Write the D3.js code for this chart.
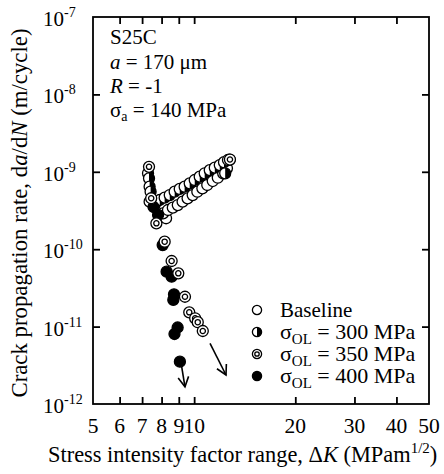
<!DOCTYPE html>
<html><head><meta charset="utf-8">
<script src="https://cdn.jsdelivr.net/npm/d3@7"></script>
<style>
html,body{margin:0;padding:0;background:#fff;}
svg{display:block;font-family:"Liberation Serif","Times New Roman",Times,serif;}
</style></head><body>
<svg id="chart" width="444" height="474" font-family="Liberation Serif, Times New Roman, Times, serif"></svg>
<script>
// Crack growth rate vs stress intensity factor range, S25C, after single overloads

// Baseline (no overload)
const baselineDK   = [8.25, 8.08, 8.36, 8.64, 8.94, 9.24, 9.56, 9.90, 10.22, 10.58, 10.94, 11.36, 11.76, 12.20, 12.52, 12.75];
const baselineRate = [2.51e-10, 2.91e-10, 3.21e-10, 3.44e-10, 3.72e-10, 4.11e-10, 4.54e-10, 5.01e-10, 5.53e-10, 6.12e-10, 6.75e-10, 7.60e-10, 8.39e-10, 9.57e-10, 1.11e-9, 1.44e-9];

// Overload 300 MPa
const ol300DK   = [7.29, 7.34, 7.37, 7.42, 7.37, 7.63, 7.90, 8.17, 8.46, 8.75, 9.06, 9.37, 9.70, 10.04, 10.39, 10.75, 11.13, 11.52, 11.92, 12.27, 12.37, 12.61];
const ol300Rate = [9.57e-10, 8.24e-10, 6.42e-10, 5.53e-10, 4.11e-10, 3.72e-10, 4.32e-10, 4.63e-10, 5.01e-10, 5.53e-10, 6.00e-10, 6.42e-10, 7.10e-10, 7.83e-10, 8.65e-10, 9.57e-10, 1.05e-9, 1.13e-9, 1.22e-9, 1.33e-9, 9.57e-10, 1.42e-9];

// Overload 350 MPa
const ol350DK   = [7.34, 7.45, 7.72, 8.17, 8.57, 8.97, 9.39, 9.67, 10.07, 10.25, 10.61, 12.78];
const ol350Rate = [1.16e-9, 4.55e-10, 2.16e-10, 1.25e-10, 7.04e-11, 4.88e-11, 2.43e-11, 1.53e-11, 1.28e-11, 1.14e-11, 8.77e-12, 1.44e-9];

// Overload 400 MPa
const ol400DK   = [7.57, 7.81, 8.06, 8.28, 8.57, 8.71, 8.67, 8.93, 8.74, 9.07];
const ol400Rate = [3.51e-10, 2.77e-10, 1.13e-10, 5.12e-11, 4.41e-11, 2.61e-11, 2.21e-11, 9.73e-12, 8.02e-12, 3.52e-12];

// Arrows marking crack arrest: [dK start, rate start, dK end, rate end]
const arrestArrows = [
  [9.18, 3.03e-12, 9.39, 1.67e-12],
  [11.15, 6.08e-12, 12.44, 2.37e-12]
];

const xTickValues  = [5, 6, 7, 8, 9, 10, 20, 30, 40, 50];
const xTickLabels  = ["5", "6", "7", "8", "9", "10", "20", "30", "40", "50"];
const yTickValues  = [1e-7, 1e-8, 1e-9, 1e-10, 1e-11, 1e-12];
const yTickExps    = ["-7", "-8", "-9", "-10", "-11", "-12"];
const overloadStress = [300, 350, 400];

const svg = d3.select("#chart");
const plotL = 93, plotR = 429, plotT = 17, plotB = 404;

const x = d3.scaleLog().domain([5, 50]).range([plotL, plotR]);
const y = d3.scaleLog().domain([1e-12, 1e-7]).range([plotB, plotT]);

const FS = 21, SUB = 14;
const MR = 5.5;

// inward ticks on all four sides
const innerX = xTickValues.slice(1, -1);
const innerY = yTickValues.slice(1, -1);
const tickLen = 7;

function styleAxis(g) {
  g.select(".domain").remove();
  g.selectAll(".tick line").attr("stroke", "#000").attr("stroke-width", 1.8);
  g.selectAll(".tick text").remove();
}
svg.append("g").attr("transform", `translate(0,${plotB})`)
  .call(d3.axisBottom(x).tickValues(innerX).tickSize(-tickLen)).call(styleAxis);
svg.append("g").attr("transform", `translate(0,${plotT})`)
  .call(d3.axisTop(x).tickValues(innerX).tickSize(-tickLen)).call(styleAxis);
svg.append("g").attr("transform", `translate(${plotL},0)`)
  .call(d3.axisLeft(y).tickValues(innerY).tickSize(-tickLen)).call(styleAxis);
svg.append("g").attr("transform", `translate(${plotR},0)`)
  .call(d3.axisRight(y).tickValues(innerY).tickSize(-tickLen)).call(styleAxis);

// frame
svg.append("rect")
  .attr("x", plotL).attr("y", plotT)
  .attr("width", plotR - plotL).attr("height", plotB - plotT)
  .attr("fill", "none").attr("stroke", "#000").attr("stroke-width", 1.8);

// x tick labels
svg.append("g").selectAll("text").data(xTickValues).join("text")
  .attr("x", d => x(d)).attr("y", plotB + 29)
  .attr("text-anchor", "middle").attr("font-size", 21.5)
  .text((d, i) => xTickLabels[i]);

// y tick labels: 10 with exponent
const yl = svg.append("g").selectAll("text").data(yTickValues).join("text")
  .attr("x", 43).attr("y", d => y(d) + 9)
  .attr("font-size", FS);
yl.append("tspan").text("10");
yl.append("tspan").attr("font-size", SUB).attr("dy", -9).text((d, i) => yTickExps[i]);

// axis titles
const xt = svg.append("text").attr("x", 48).attr("y", 462).attr("font-size", 22.4);
xt.append("tspan").text("Stress intensity factor range, \u0394");
xt.append("tspan").attr("font-style", "italic").text("K");
xt.append("tspan").text(" (MPam");
xt.append("tspan").attr("font-size", 15).attr("dy", -9).text("1/2");
xt.append("tspan").attr("dy", 9).text(")");

const yt = svg.append("text")
  .attr("transform", "translate(27,213) rotate(-90)")
  .attr("text-anchor", "middle").attr("font-size", 22.8);
yt.append("tspan").text("Crack propagation rate, d");
yt.append("tspan").attr("font-style", "italic").text("a");
yt.append("tspan").text("/d");
yt.append("tspan").attr("font-style", "italic").text("N");
yt.append("tspan").text(" (m/cycle)");

// condition notes
const noteX = 110;
svg.append("text").attr("x", noteX).attr("y", 44).attr("font-size", FS).text("S25C");
const n2 = svg.append("text").attr("x", noteX).attr("y", 69).attr("font-size", FS);
n2.append("tspan").attr("font-style", "italic").text("a");
n2.append("tspan").text(" = 170 \u03bcm");
const n3 = svg.append("text").attr("x", noteX).attr("y", 93).attr("font-size", FS);
n3.append("tspan").attr("font-style", "italic").text("R");
n3.append("tspan").text(" = -1");
const n4 = svg.append("text").attr("x", noteX).attr("y", 117).attr("font-size", FS);
n4.append("tspan").text("\u03c3");
n4.append("tspan").attr("font-size", SUB).attr("dy", 4).text("a");
n4.append("tspan").attr("dy", -4).text(" = 140 MPa");

// marker drawing
function drawMarker(g, type, r) {
  g.append("circle").attr("r", r)
    .attr("fill", type === "filled" ? "#000" : "#fff")
    .attr("stroke", "#000").attr("stroke-width", 1.3);
  if (type === "half") {
    g.append("path")
      .attr("d", `M0,${-r}A${r},${r} 0 0 1 0,${r}Z`)
      .attr("fill", "#000");
  }
  if (type === "double") {
    g.append("circle").attr("r", r * 0.48)
      .attr("fill", "none").attr("stroke", "#000").attr("stroke-width", 1.3);
  }
}

const series = [
  { type: "open",   dk: baselineDK, rate: baselineRate },
  { type: "half",   dk: ol300DK,    rate: ol300Rate },
  { type: "filled", dk: ol400DK,    rate: ol400Rate },
  { type: "double", dk: ol350DK,    rate: ol350Rate }
];

series.forEach(s => {
  svg.append("g").selectAll("g").data(s.dk.map((d, i) => [d, s.rate[i]])).join("g")
    .attr("transform", d => `translate(${x(d[0])},${y(d[1])})`)
    .each(function () { drawMarker(d3.select(this), s.type, MR); });
});

// arrest arrows
arrestArrows.forEach(a => {
  const x1 = x(a[0]), y1 = y(a[1]), x2 = x(a[2]), y2 = y(a[3]);
  const ang = Math.atan2(y2 - y1, x2 - x1);
  const h = 11, spread = 0.5;
  const g = svg.append("g").attr("stroke", "#000").attr("stroke-width", 1.6).attr("fill", "none");
  g.append("line").attr("x1", x1).attr("y1", y1).attr("x2", x2).attr("y2", y2);
  g.append("path").attr("d",
    `M${x2 - h * Math.cos(ang - spread)},${y2 - h * Math.sin(ang - spread)}L${x2},${y2}L${x2 - h * Math.cos(ang + spread)},${y2 - h * Math.sin(ang + spread)}`);
});

// legend
const legendTypes = ["open", "half", "double", "filled"];
const legendRows = [310, 332, 354, 376];
const lg = svg.append("g");
legendTypes.forEach((t, i) => {
  const g = lg.append("g").attr("transform", `translate(257,${legendRows[i]})`);
  drawMarker(g, t, 4.6);
  const tx = lg.append("text").attr("x", 280).attr("y", legendRows[i] + 7).attr("font-size", FS);
  if (i === 0) {
    tx.text("Baseline");
  } else {
    tx.attr("font-size", 22);
    tx.append("tspan").text("\u03c3");
    tx.append("tspan").attr("font-size", 15).attr("dy", 5).text("OL");
    tx.append("tspan").attr("dy", -5).text(` = ${overloadStress[i - 1]} MPa`);
  }
});
</script>
</body></html>
